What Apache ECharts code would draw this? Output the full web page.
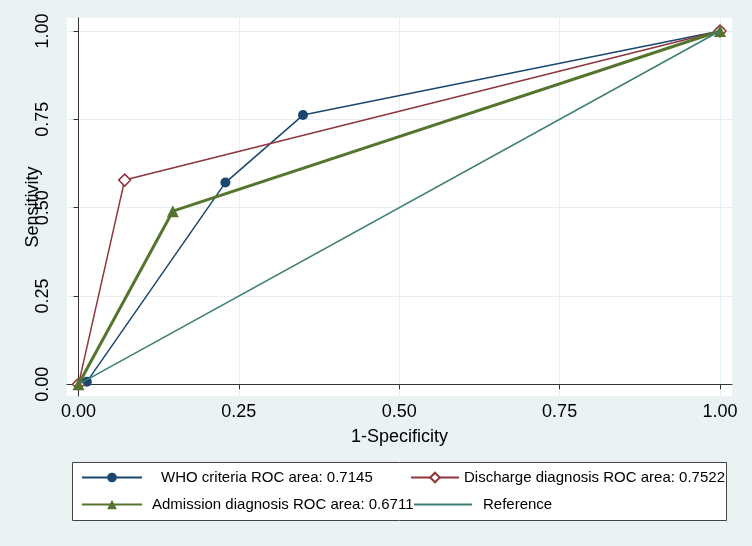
<!DOCTYPE html>
<html>
<head>
<meta charset="utf-8">
<script src="https://cdn.jsdelivr.net/npm/echarts@6/dist/echarts.min.js"></script>
<style>
html,body{margin:0;padding:0;background:#eaf2f3;}
#c{width:752px;height:546px;}
</style>
</head>
<body>
<div id="c"></div>
<script>
// Data (x = 1-Specificity, y = Sensitivity)
const whoPoints = [[0, 0], [0.013, 0.007], [0.229, 0.571], [0.35, 0.762], [1, 1]];
const dischargePoints = [[0, 0], [0.072, 0.578], [1, 1]];
const admissionPoints = [[0, 0], [0.147, 0.49], [1, 1]];
const referencePoints = [[0, 0], [1, 1]];
const tickValues = [0, 0.25, 0.5, 0.75, 1];
const seriesNames = [
  'WHO criteria ROC area: 0.7145',
  'Discharge diagnosis ROC area: 0.7522',
  'Admission diagnosis ROC area: 0.6711',
  'Reference'
];

const FONT = 'Liberation Sans, Arial, sans-serif';
const chart = echarts.init(document.getElementById('c'));

function legendAt(item, left, top, width, pad) {
  return {
    data: [item], left: left, top: top, itemWidth: width, itemHeight: 12,
    orient: 'horizontal', padding: 0, selectedMode: false,
    textStyle: { fontFamily: FONT, fontSize: 15, color: '#000', padding: [0, 0, 0, pad] }
  };
}

chart.setOption({
  backgroundColor: '#eaf2f3',
  animation: false,
  grid: { left: 67, right: 20, top: 18, bottom: 150, show: true, backgroundColor: '#ffffff', borderWidth: 0 },
  xAxis: {
    type: 'value', min: -0.0179, max: 1.0187,
    name: '1-Specificity', nameLocation: 'middle', nameGap: 32, nameMoveOverlap: false,
    nameTextStyle: { fontFamily: FONT, fontSize: 18, color: '#000' },
    axisLine: { show: true, lineStyle: { color: '#333', width: 1 } },
    axisTick: { show: true, length: 5, customValues: tickValues, lineStyle: { color: '#333' } },
    axisLabel: { customValues: tickValues, margin: 7, fontFamily: FONT, fontSize: 18, color: '#000',
      formatter: v => v.toFixed(2) },
    splitLine: { show: true, lineStyle: { color: '#e6eff1', width: 1 } }
  },
  yAxis: {
    type: 'value', min: -0.0331, max: 1.0368,
    name: 'Sensitivity', nameLocation: 'middle', nameGap: 25, nameMoveOverlap: false,
    nameTextStyle: { fontFamily: FONT, fontSize: 18, color: '#000' },
    axisLine: { show: true, lineStyle: { color: '#333', width: 1 } },
    axisTick: { show: true, length: 5, customValues: tickValues, lineStyle: { color: '#333' } },
    axisLabel: { customValues: tickValues, margin: 15, rotate: 90, fontFamily: FONT, fontSize: 18, color: '#000',
      formatter: v => v.toFixed(2) },
    splitLine: { show: true, lineStyle: { color: '#e6eff1', width: 1 } }
  },
  graphic: [{
    type: 'rect', left: 72, top: 462, z: 0,
    shape: { width: 654, height: 58 },
    style: { fill: '#ffffff', stroke: '#444', lineWidth: 1 }
  }],
  legend: [
    legendAt(seriesNames[0], 81, 470, 60, 14),
    legendAt(seriesNames[1], 410, 470, 48, 0),
    legendAt(seriesNames[2], 81, 497, 60, 5),
    legendAt({ name: seriesNames[3], itemStyle: { opacity: 0 } }, 413, 497, 58, 6)
  ],
  series: [
    { name: seriesNames[0], type: 'line', data: whoPoints, symbol: 'circle', symbolSize: 10,
      color: '#1a476f', lineStyle: { width: 1.5, color: '#1a476f' }, itemStyle: { color: '#1a476f' }, z: 2 },
    { name: seriesNames[1], type: 'line', data: dischargePoints, symbol: 'diamond', symbolSize: 12,
      color: '#90353b', lineStyle: { width: 1.5, color: '#90353b' },
      itemStyle: { color: '#ffffff', borderColor: '#90353b', borderWidth: 1.5 }, z: 3 },
    { name: seriesNames[2], type: 'line', data: admissionPoints, symbol: 'triangle', symbolSize: 12,
      color: '#55752f', lineStyle: { width: 3, color: '#55752f' }, itemStyle: { color: '#55752f' }, z: 4 },
    { name: seriesNames[3], type: 'line', data: referencePoints, symbol: 'none', showSymbol: false,
      color: '#3b7e74', lineStyle: { width: 1.5, color: '#3b7e74' }, z: 5 }
  ]
});
</script>
</body>
</html>
